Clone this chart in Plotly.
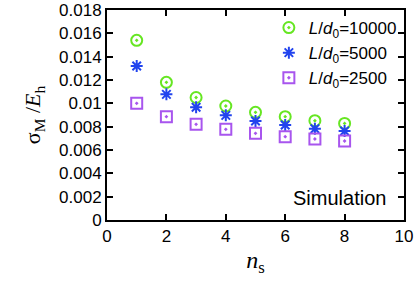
import plotly.graph_objects as go

ns = [1, 2, 3, 4, 5, 6, 7, 8]
s10000 = [0.0154, 0.0118, 0.0105, 0.00977, 0.00923, 0.00886, 0.00851, 0.00828]
s5000 = [0.0132, 0.01077, 0.00966, 0.00897, 0.00848, 0.00814, 0.00782, 0.00763]
s2500 = [0.0100, 0.00886, 0.0082, 0.00777, 0.00743, 0.00714, 0.00694, 0.00677]

x_ticks = [0, 2, 4, 6, 8, 10]
y_ticks = [0, 0.002, 0.004, 0.006, 0.008, 0.01, 0.012, 0.014, 0.016, 0.018]
y_labels = ["0", "0.002", "0.004", "0.006", "0.008", "0.01", "0.012", "0.014", "0.016", "0.018"]

fig = go.Figure()
series = [
    (s10000, "<i>L</i>/<i>d</i><sub>0</sub>=10000", "circle-open-dot", "#66e622", 11),
    (s5000, "<i>L</i>/<i>d</i><sub>0</sub>=5000", "asterisk-open", "#2244ee", 10),
    (s2500, "<i>L</i>/<i>d</i><sub>0</sub>=2500", "square-open-dot", "#a855ee", 11),
]
for ys, name, sym, col, sz in series:
    fig.add_trace(go.Scatter(
        x=ns, y=ys, mode="markers", name=name,
        marker=dict(symbol=sym, size=sz, color=col, line=dict(width=2, color=col)),
    ))

axis_common = dict(
    showline=True, linewidth=2, linecolor="black", mirror="ticks",
    ticks="inside", ticklen=6, tickwidth=2, tickcolor="black",
    showgrid=False, zeroline=False, automargin=False,
    tickfont=dict(family="Liberation Sans, Arial", size=17, color="black"),
)
fig.update_xaxes(range=[0, 10], tickvals=x_ticks, ticktext=[str(v) for v in x_ticks],
                 title=dict(text="<i>n</i><sub>s</sub>", font=dict(family="Liberation Serif, Times New Roman", size=24, color="black"), standoff=6),
                 **axis_common)
fig.update_yaxes(range=[0, 0.018], tickvals=y_ticks, ticktext=y_labels,
                 title=dict(text="σ<sub>M</sub> /<i>E</i><sub>h</sub>", font=dict(family="Liberation Serif, Times New Roman", size=22, color="black"), standoff=12),
                 **axis_common)

fig.add_annotation(text="Simulation", xref="paper", yref="paper", x=0.945, y=0.045,
                   xanchor="right", yanchor="bottom", showarrow=False,
                   font=dict(family="Liberation Sans, Arial", size=20, color="black"))

fig.update_layout(
    width=417, height=281,
    margin=dict(l=107, r=13, t=10, b=61),
    plot_bgcolor="white", paper_bgcolor="white",
    legend=dict(x=0.545, y=1.0, xanchor="left", yanchor="top",
                font=dict(family="Liberation Sans, Arial", size=17, color="black"),
                bgcolor="rgba(0,0,0,0)", tracegroupgap=0, itemwidth=30),
    showlegend=True,
)
fig.write_html("out.html", config={"displayModeBar": False},
               post_script="document.body.style.margin='0';document.body.style.overflow='hidden';")
